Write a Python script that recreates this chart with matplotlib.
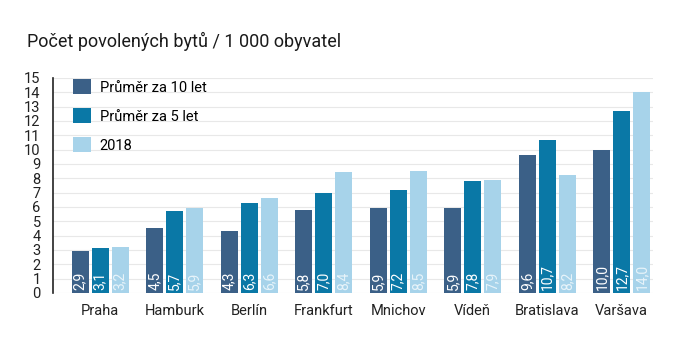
import matplotlib
matplotlib.use("Agg")
import matplotlib.pyplot as plt
import numpy as np

cities = ["Praha", "Hamburk", "Berlín", "Frankfurt", "Mnichov", "Vídeň", "Bratislava", "Varšava"]
avg10 = [2.9, 4.5, 4.3, 5.8, 5.9, 5.9, 9.6, 10.0]
avg5 = [3.1, 5.7, 6.3, 7.0, 7.2, 7.8, 10.7, 12.7]
y2018 = [3.2, 5.9, 6.6, 8.4, 8.5, 7.9, 8.2, 14.0]
series_names = ["Průměr za 10 let", "Průměr za 5 let", "2018"]
yticks = list(range(0, 16))

colors = ["#3b6087", "#0a78a6", "#a7d3ea"]
label_colors = ["white", "white", "#e8f4fa"]

plt.rcParams.update({
    "font.family": ["Roboto", "DejaVu Sans"],
    "font.size": 10,
})

fig = plt.figure(figsize=(6.81, 3.43), dpi=100)
ax = fig.add_axes([0.078, 0.146, 0.881, 0.627])

x = np.arange(len(cities))
w = 0.228
step = 0.268
for i, (vals, name) in enumerate(zip([avg10, avg5, y2018], series_names)):
    pos = x + (i - 1) * step
    ax.bar(pos, vals, width=w, color=colors[i], label=name, zorder=3)
    for p, v in zip(pos, vals):
        ax.text(p, 0.2, f"{v:.1f}".replace(".", ","), rotation=90,
                ha="center", va="bottom", color=label_colors[i], fontsize=10, zorder=4)

ax.set_ylim(0, 15)
ax.set_xlim(-0.63, len(cities) - 1 + 0.42)
ax.set_yticks(yticks)
ax.set_yticklabels([str(t) for t in yticks], fontsize=10.5, color="#222222")
ax.set_xticks(x)
ax.set_xticklabels(cities, fontsize=10.5, color="#222222")
ax.tick_params(axis="both", length=0)
ax.tick_params(axis="y", pad=9)
ax.tick_params(axis="x", pad=8)
ax.yaxis.grid(True, color="#e8e8e8", lw=0.8, zorder=0)
for s in ["top", "right", "bottom"]:
    ax.spines[s].set_visible(False)
ax.spines["left"].set_color("#222222")
ax.spines["left"].set_linewidth(1.2)

ax.legend(loc="upper left", frameon=False, handlelength=1.2, handleheight=1.25,
          labelspacing=0.92, fontsize=10.5, borderaxespad=0.0, bbox_to_anchor=(0.024, 1.022),
          handletextpad=0.6)

fig.text(0.04, 0.862, "Počet povolených bytů / 1 000 obyvatel", fontsize=13,
         color="#1a1a1a", va="baseline")

fig.savefig("out.png", dpi=100)
